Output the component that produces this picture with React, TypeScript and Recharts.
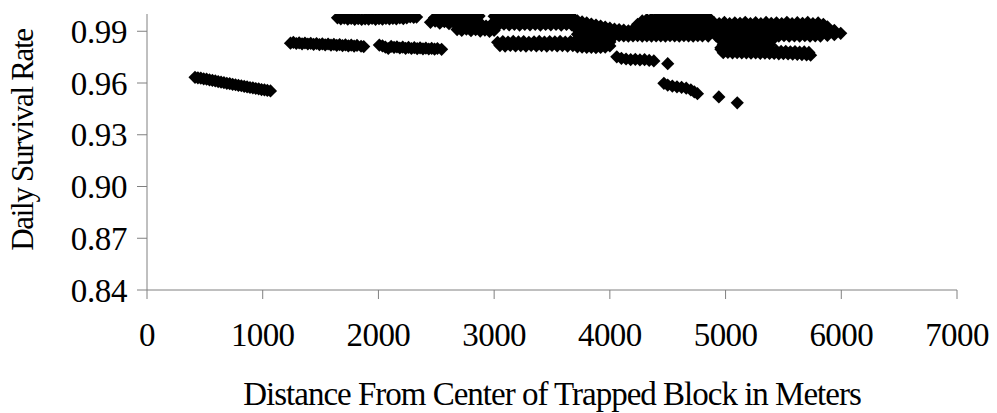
import React from 'react';
import { ScatterChart, Scatter, XAxis, YAxis, Label } from 'recharts';

type P = [number, number];

// Distance (m), daily survival rate
const nearBand: P[] = [
  [415, 0.9633], [440, 0.9630], [465, 0.9628], [490, 0.9624], [515, 0.9622], [540, 0.9618],
  [565, 0.9615], [590, 0.9612], [615, 0.9608], [640, 0.9605], [665, 0.9602], [690, 0.9598],
  [715, 0.9596], [740, 0.9592], [765, 0.9590], [790, 0.9586], [815, 0.9584], [840, 0.9580],
  [865, 0.9578], [890, 0.9574], [915, 0.9572], [940, 0.9568], [965, 0.9566], [990, 0.9562],
  [1015, 0.9560], [1040, 0.9557], [1067, 0.9554],
];

const lowBandWest: P[] = [
  [1240, 0.9831], [1265, 0.9835], [1290, 0.9829], [1315, 0.9833], [1340, 0.9827], [1365, 0.9832],
  [1390, 0.9826], [1415, 0.9830], [1440, 0.9824], [1465, 0.9829], [1490, 0.9823], [1515, 0.9827],
  [1540, 0.9821], [1565, 0.9826], [1590, 0.9820], [1615, 0.9824], [1640, 0.9818], [1665, 0.9823],
  [1690, 0.9817], [1715, 0.9821], [1740, 0.9815], [1765, 0.9820], [1790, 0.9814], [1815, 0.9818],
  [1850, 0.9813], [1873, 0.9811],
];

const lowBandMid: P[] = [
  [2008, 0.9820], [2035, 0.9815], [2060, 0.9808], [2085, 0.9800], [2110, 0.9812], [2135, 0.9806],
  [2160, 0.9810], [2185, 0.9803], [2210, 0.9808], [2235, 0.9801], [2260, 0.9806], [2285, 0.9800],
  [2310, 0.9805], [2335, 0.9799], [2360, 0.9804], [2385, 0.9798], [2410, 0.9802], [2435, 0.9797],
  [2460, 0.9801], [2485, 0.9796], [2510, 0.9800], [2546, 0.9795],
];

const highBand: P[] = [
  [1646, 0.9978], [1675, 0.9972], [1705, 0.9976], [1735, 0.9970], [1765, 0.9974], [1795, 0.9969],
  [1825, 0.9973], [1855, 0.9968], [1885, 0.9972], [1915, 0.9970], [1945, 0.9974], [1975, 0.9969],
  [2005, 0.9973], [2035, 0.9970], [2065, 0.9975], [2095, 0.9971], [2125, 0.9974], [2155, 0.9972],
  [2185, 0.9977], [2215, 0.9973], [2245, 0.9978], [2275, 0.9983], [2305, 0.9980], [2330, 0.9982],
];

const clusterA: P[] = [
  [2485, 0.9978], [2520, 0.9986], [2555, 0.9993], [2590, 0.9990], [2625, 0.9995], [2660, 0.9991],
  [2695, 0.9994], [2730, 0.9990], [2765, 0.9993], [2800, 0.9989], [2835, 0.9992], [2870, 0.9988],
  [2450, 0.9952], [2490, 0.9958], [2530, 0.9947], [2570, 0.9955], [2610, 0.9944], [2650, 0.9951],
  [2690, 0.9941], [2730, 0.9948], [2770, 0.9938], [2810, 0.9945], [2850, 0.9934], [2890, 0.9940],
  [2930, 0.9930], [2970, 0.9936],
  [2680, 0.9910], [2720, 0.9905], [2760, 0.9912], [2800, 0.9903], [2840, 0.9909], [2880, 0.9901],
  [2920, 0.9907], [2960, 0.9899], [3000, 0.9905],
];

const upperWest: P[] = [
  [3000, 0.9987], [3045, 0.9984], [3090, 0.9988], [3135, 0.9985], [3180, 0.9987], [3225, 0.9984],
  [3270, 0.9988], [3315, 0.9985], [3360, 0.9987], [3405, 0.9984], [3450, 0.9987], [3495, 0.9985],
  [3540, 0.9988], [3585, 0.9984], [3630, 0.9986], [3675, 0.9983],
  [3020, 0.9962], [3065, 0.9965], [3110, 0.9960], [3155, 0.9963], [3200, 0.9961], [3245, 0.9964],
  [3290, 0.9960], [3335, 0.9963], [3380, 0.9961], [3425, 0.9964], [3470, 0.9960], [3515, 0.9963],
  [3560, 0.9961], [3605, 0.9964], [3650, 0.9960], [3695, 0.9962],
  [3040, 0.9938], [3085, 0.9941], [3130, 0.9937], [3175, 0.9940], [3220, 0.9936], [3265, 0.9939],
  [3310, 0.9937], [3355, 0.9940], [3400, 0.9936], [3445, 0.9939], [3490, 0.9937], [3535, 0.9940],
  [3580, 0.9936], [3625, 0.9939], [3670, 0.9937],
];

const lowerWest: P[] = [
  [3030, 0.9836], [3075, 0.9840], [3120, 0.9837], [3165, 0.9841], [3210, 0.9838], [3255, 0.9840],
  [3300, 0.9836], [3345, 0.9839], [3390, 0.9841], [3435, 0.9837], [3480, 0.9840], [3525, 0.9838],
  [3570, 0.9841], [3615, 0.9837], [3660, 0.9840], [3705, 0.9838], [3730, 0.9836],
  [3050, 0.9817], [3095, 0.9814], [3140, 0.9818], [3185, 0.9815], [3230, 0.9817], [3275, 0.9814],
  [3320, 0.9818], [3365, 0.9815], [3410, 0.9817], [3455, 0.9814], [3500, 0.9818], [3545, 0.9815],
  [3590, 0.9817], [3635, 0.9814], [3680, 0.9816],
];

const transition: P[] = [
  [3720, 0.9960], [3720, 0.9934], [3720, 0.9908], [3720, 0.9882], [3720, 0.9856], [3720, 0.9830], [3720, 0.9810],
  [3760, 0.9954], [3760, 0.9930], [3760, 0.9905], [3760, 0.9880], [3760, 0.9853], [3760, 0.9828], [3760, 0.9808],
  [3800, 0.9948], [3800, 0.9924], [3800, 0.9900], [3800, 0.9876], [3800, 0.9850], [3800, 0.9826], [3800, 0.9806],
  [3840, 0.9942], [3840, 0.9918], [3840, 0.9895], [3840, 0.9870], [3840, 0.9848], [3840, 0.9824], [3840, 0.9807],
  [3880, 0.9936], [3880, 0.9912], [3880, 0.9890], [3880, 0.9866], [3880, 0.9845], [3880, 0.9822], [3880, 0.9805],
  [3920, 0.9930], [3920, 0.9908], [3920, 0.9886], [3920, 0.9862], [3920, 0.9842], [3920, 0.9820], [3920, 0.9806],
  [3960, 0.9924], [3960, 0.9902], [3960, 0.9882], [3960, 0.9860], [3960, 0.9840], [3960, 0.9818], [3960, 0.9808],
  [4000, 0.9918], [4000, 0.9898], [4000, 0.9878], [4000, 0.9858], [4000, 0.9838], [4000, 0.9815],
  [4040, 0.9912], [4040, 0.9893], [4040, 0.9875],
];

const middleBlob: P[] = [
  [4080, 0.9910], [4080, 0.9890], [4080, 0.9874],
  [4120, 0.9906], [4120, 0.9886], [4120, 0.9873],
  [4160, 0.9903], [4160, 0.9884], [4160, 0.9872],
  [4200, 0.9910], [4200, 0.9887], [4200, 0.9873],
  [4240, 0.9940], [4240, 0.9912], [4240, 0.9890], [4240, 0.9874],
  [4280, 0.9960], [4280, 0.9932], [4280, 0.9908], [4280, 0.9886], [4280, 0.9872],
  [4320, 0.9968], [4320, 0.9940], [4320, 0.9915], [4320, 0.9890], [4320, 0.9873],
  [4360, 0.9972], [4360, 0.9945], [4360, 0.9918], [4360, 0.9893], [4360, 0.9872],
  [4400, 0.9976], [4400, 0.9950], [4400, 0.9922], [4400, 0.9895], [4400, 0.9873],
];

const peakBlob: P[] = [
  [4440, 0.9978], [4440, 0.9954], [4440, 0.9927], [4440, 0.9899], [4440, 0.9873],
  [4480, 0.9980], [4480, 0.9956], [4480, 0.9928], [4480, 0.9900], [4480, 0.9872],
  [4520, 0.9985], [4520, 0.9955], [4520, 0.9929], [4520, 0.9901], [4520, 0.9874],
  [4560, 0.9984], [4560, 0.9957], [4560, 0.9927], [4560, 0.9899], [4560, 0.9873],
  [4600, 0.9986], [4600, 0.9955], [4600, 0.9928], [4600, 0.9900], [4600, 0.9872],
  [4640, 0.9984], [4640, 0.9956], [4640, 0.9929], [4640, 0.9901], [4640, 0.9874],
  [4680, 0.9986], [4680, 0.9957], [4680, 0.9927], [4680, 0.9899], [4680, 0.9873],
  [4720, 0.9985], [4720, 0.9955], [4720, 0.9928], [4720, 0.9900], [4720, 0.9872],
  [4760, 0.9986], [4760, 0.9956], [4760, 0.9929], [4760, 0.9901], [4760, 0.9874],
  [4800, 0.9984], [4800, 0.9957], [4800, 0.9927], [4800, 0.9899], [4800, 0.9873],
  [4850, 0.9982], [4850, 0.9955], [4850, 0.9928], [4850, 0.9900], [4850, 0.9872],
];

const eastBlob: P[] = [
  [4900, 0.9950], [4945, 0.9945], [4990, 0.9951], [5035, 0.9944], [5080, 0.9949], [5125, 0.9946],
  [5170, 0.9952], [5215, 0.9945], [5260, 0.9950], [5305, 0.9944], [5350, 0.9951], [5395, 0.9946],
  [5440, 0.9949], [5485, 0.9945], [5530, 0.9952], [5575, 0.9944], [5620, 0.9950], [5665, 0.9946],
  [5710, 0.9951], [5755, 0.9945], [5800, 0.9948], [5845, 0.9940],
  [4920, 0.9922], [4965, 0.9925], [5010, 0.9920], [5055, 0.9923], [5100, 0.9921], [5145, 0.9924],
  [5190, 0.9920], [5235, 0.9923], [5280, 0.9921], [5325, 0.9924], [5370, 0.9920], [5415, 0.9923],
  [5460, 0.9921], [5505, 0.9924], [5550, 0.9920], [5595, 0.9923], [5640, 0.9921], [5685, 0.9924],
  [5730, 0.9920], [5775, 0.9923], [5820, 0.9921],
  [4900, 0.9897], [4945, 0.9899], [4990, 0.9895], [5035, 0.9898], [5080, 0.9896], [5125, 0.9899],
  [5170, 0.9895], [5215, 0.9898], [5260, 0.9896], [5305, 0.9899], [5350, 0.9895], [5395, 0.9898],
  [5440, 0.9896], [5485, 0.9899], [5530, 0.9895], [5575, 0.9898], [5620, 0.9896], [5665, 0.9899],
  [5710, 0.9895], [5755, 0.9898], [5800, 0.9896], [5845, 0.9899],
  [4920, 0.9872], [4965, 0.9874], [5010, 0.9871], [5055, 0.9873], [5100, 0.9872], [5145, 0.9874],
  [5190, 0.9871], [5235, 0.9873], [5280, 0.9872], [5325, 0.9874], [5370, 0.9871], [5415, 0.9873],
  [5460, 0.9872], [5505, 0.9874], [5550, 0.9871], [5595, 0.9873], [5640, 0.9872], [5685, 0.9874],
  [5730, 0.9871], [5775, 0.9873], [5820, 0.9872],
  [5880, 0.9926], [5880, 0.9900], [5880, 0.9876], [5940, 0.9905], [5940, 0.9880], [5995, 0.9888],
];

const bridge: P[] = [
  [4960, 0.9848], [5005, 0.9846], [5050, 0.9849], [5095, 0.9847], [5140, 0.9848], [5185, 0.9846],
  [5230, 0.9849], [5275, 0.9847], [5320, 0.9848], [5365, 0.9846], [5400, 0.9847],
  [4980, 0.9824], [5025, 0.9822], [5070, 0.9825], [5115, 0.9823], [5160, 0.9824], [5205, 0.9822],
  [5250, 0.9825], [5295, 0.9823], [5340, 0.9824], [5385, 0.9822],
  [4960, 0.9805], [5005, 0.9803], [5050, 0.9806], [5095, 0.9804], [5140, 0.9805], [5185, 0.9803],
  [5230, 0.9806], [5275, 0.9804], [5320, 0.9805], [5365, 0.9803],
];

const lowerEast: P[] = [
  [4960, 0.9795], [5000, 0.9794], [5040, 0.9796], [5080, 0.9793], [5120, 0.9794], [5160, 0.9791],
  [5200, 0.9792], [5240, 0.9789], [5280, 0.9790], [5320, 0.9787], [5360, 0.9788], [5400, 0.9785],
  [5440, 0.9786], [5480, 0.9783], [5520, 0.9784], [5560, 0.9781], [5600, 0.9782], [5640, 0.9779],
  [5680, 0.9780], [5720, 0.9777],
  [4980, 0.9776], [5020, 0.9777], [5060, 0.9775], [5100, 0.9776], [5140, 0.9774], [5180, 0.9775],
  [5220, 0.9773], [5260, 0.9774], [5300, 0.9772], [5340, 0.9773], [5380, 0.9771], [5420, 0.9771],
  [5460, 0.9769], [5500, 0.9770], [5540, 0.9768], [5580, 0.9767], [5620, 0.9766], [5660, 0.9765],
  [5700, 0.9763], [5735, 0.9761],
];

const band975: P[] = [
  [4060, 0.9752], [4100, 0.9743], [4140, 0.9739], [4180, 0.9736], [4220, 0.9737],
  [4260, 0.9734], [4300, 0.9735], [4340, 0.9731], [4380, 0.9728], [4500, 0.9712],
];

const band958: P[] = [
  [4467, 0.9598], [4500, 0.9588], [4540, 0.9582], [4580, 0.9578], [4620, 0.9575],
  [4660, 0.9570], [4700, 0.9560], [4730, 0.9548], [4757, 0.9538],
];

const outliers: P[] = [
  [4942, 0.9519], [5101, 0.9485],
];

const xTicks = [0, 1000, 2000, 3000, 4000, 5000, 6000, 7000];
const yTicks = [0.84, 0.87, 0.9, 0.93, 0.96, 0.99];

const allSeries: P[][] = [
  nearBand, lowBandWest, lowBandMid, highBand, clusterA, upperWest, lowerWest, transition,
  middleBlob, peakBlob, eastBlob, bridge, lowerEast, band975, band958, outliers,
];

const toPts = (a: P[]) => a.map(([d, s]) => ({ d, s }));

const FONT = '"Liberation Serif", "Times New Roman", serif';
const AXIS = '#808080';

const Diamond = (props: any) => {
  const { cx, cy } = props;
  if (cx == null || cy == null) return null;
  const r = 6.6;
  return (
    <polygon
      points={`${cx},${cy - r} ${cx + r},${cy} ${cx},${cy + r} ${cx - r},${cy}`}
      fill="#000"
      stroke="none"
    />
  );
};

export default function App() {
  return (
    <div style={{ position: 'absolute', left: 0, top: 0, width: 997, height: 413, background: '#fff' }}>
      <ScatterChart width={997} height={413} margin={{ top: 14, right: 40, bottom: 0, left: 0 }}>
        <XAxis
          type="number"
          dataKey="d"
          domain={[0, 7000]}
          ticks={xTicks}
          interval={0}
          allowDataOverflow
          height={123}
          tickSize={9}
          tickMargin={24}
          axisLine={{ stroke: AXIS }}
          tickLine={{ stroke: AXIS }}
          tick={{ fill: '#000', fontFamily: FONT, fontSize: 33, letterSpacing: -0.6 }}
        >
          <Label
            content={() => (
              <text x={552} y={405} textAnchor="middle" fontFamily={FONT} fontSize={33} letterSpacing={-1} fill="#000">
                Distance From Center of Trapped Block in Meters
              </text>
            )}
          />
        </XAxis>
        <YAxis
          type="number"
          dataKey="s"
          domain={[0.84, 1.0]}
          ticks={yTicks}
          interval={0}
          allowDataOverflow
          width={147}
          tickSize={10}
          tickMargin={10}
          tickFormatter={(v: number) => v.toFixed(2)}
          axisLine={{ stroke: AXIS }}
          tickLine={{ stroke: AXIS }}
          tick={{ fill: '#000', fontFamily: FONT, fontSize: 33, letterSpacing: -0.4 }}
        >
          <Label
            content={() => (
              <text
                x={33}
                y={140}
                transform="rotate(-90 33 140)"
                textAnchor="middle"
                fontFamily={FONT}
                fontSize={31}
                letterSpacing={-1.3}
                fill="#000"
              >
                Daily Survival Rate
              </text>
            )}
          />
        </YAxis>
        {allSeries.map((series, i) => (
          <Scatter key={i} data={toPts(series)} fill="#000" shape={Diamond} isAnimationActive={false} />
        ))}
      </ScatterChart>
    </div>
  );
}
